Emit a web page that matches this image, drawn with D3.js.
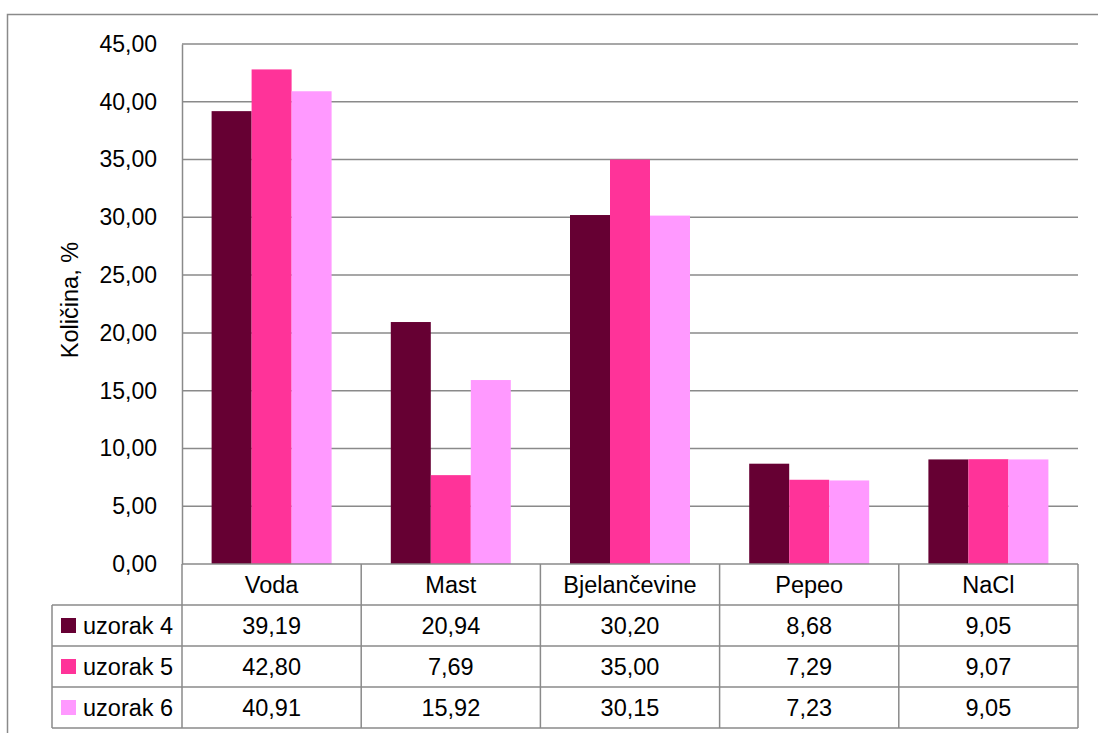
<!DOCTYPE html>
<html>
<head>
<meta charset="utf-8">
<script src="https://cdn.jsdelivr.net/npm/d3@7"></script>
<style>
  body { margin: 0; background: #fff; }
  text { font-family: "Liberation Sans", Arial, sans-serif; fill: #000; }
</style>
</head>
<body>
<div id="canvas"></div>
<script>
var categories = ["Voda", "Mast", "Bjelančevine", "Pepeo", "NaCl"];
var seriesNames = ["uzorak 4", "uzorak 5", "uzorak 6"];
var uzorak4 = [39.19, 20.94, 30.20, 8.68, 9.05];
var uzorak5 = [42.80, 7.69, 35.00, 7.29, 9.07];
var uzorak6 = [40.91, 15.92, 30.15, 7.23, 9.05];
var yTicks = [0, 5, 10, 15, 20, 25, 30, 35, 40, 45];

var seriesValues = [uzorak4, uzorak5, uzorak6];
var colors = ["#660033", "#ff3399", "#ff99ff"];

var width = 1098, height = 733;
var plotLeft = 182, plotRight = 1078, plotTop = 44, plotBottom = 564;
var rowH = 41;
var legendLeft = 52;
var gridColor = "#8a8a8a";

var fmt = function(v) { return d3.format(".2f")(v).replace(".", ","); };

var svg = d3.select("#canvas")
  .append("svg")
  .attr("width", width)
  .attr("height", height);

// outer chart border
svg.append("rect")
  .attr("x", 7.5).attr("y", 14.5)
  .attr("width", width + 20).attr("height", height + 20)
  .attr("fill", "none")
  .attr("stroke", gridColor)
  .attr("stroke-width", 1.5);

var x0 = d3.scaleBand()
  .domain(categories)
  .range([plotLeft, plotRight])
  .paddingInner(0)
  .paddingOuter(0);

// cluster = 3 bars, gap width ~150%
var x1 = d3.scaleBand()
  .domain(seriesNames)
  .range([0, x0.bandwidth()])
  .paddingOuter(0.74)
  .paddingInner(0);

var y = d3.scaleLinear()
  .domain([0, 45])
  .range([plotBottom, plotTop]);

// gridlines
svg.append("g")
  .selectAll("line")
  .data(yTicks.slice(1))
  .enter()
  .append("line")
  .attr("x1", plotLeft).attr("x2", plotRight)
  .attr("y1", function(d) { return y(d); })
  .attr("y2", function(d) { return y(d); })
  .attr("stroke", gridColor)
  .attr("stroke-width", 1.5);

// y axis
var yAxis = svg.append("g")
  .attr("transform", "translate(" + plotLeft + ",0)")
  .call(d3.axisLeft(y).tickValues(yTicks).tickFormat(fmt).tickSize(0).tickPadding(25));
yAxis.select(".domain").attr("stroke", gridColor).attr("stroke-width", 1.5);
yAxis.selectAll("text")
  .style("font-size", "23px")
  .style("font-family", "'Liberation Sans', Arial, sans-serif");

// y axis title
svg.append("text")
  .attr("transform", "translate(78,300) rotate(-90)")
  .attr("text-anchor", "middle")
  .style("font-size", "23.5px")
  .text("Količina, %");

// bars
var groups = svg.selectAll("g.cat")
  .data(categories)
  .enter()
  .append("g")
  .attr("class", "cat")
  .attr("transform", function(d) { return "translate(" + x0(d) + ",0)"; });

groups.selectAll("rect")
  .data(function(d, i) {
    return seriesNames.map(function(s, j) { return { s: s, j: j, v: seriesValues[j][i] }; });
  })
  .enter()
  .append("rect")
  .attr("x", function(d) { return x1(d.s); })
  .attr("width", x1.bandwidth())
  .attr("y", function(d) { return y(d.v); })
  .attr("height", function(d) { return plotBottom - y(d.v); })
  .attr("fill", function(d) { return colors[d.j]; });

// data table
var table = svg.append("g");
var tableBottom = plotBottom + rowH * 4;

// header row lines
table.append("line")
  .attr("x1", plotLeft).attr("x2", plotRight)
  .attr("y1", plotBottom).attr("y2", plotBottom)
  .attr("stroke", gridColor).attr("stroke-width", 1.5);

for (var r = 1; r <= 4; r++) {
  table.append("line")
    .attr("x1", legendLeft).attr("x2", plotRight)
    .attr("y1", plotBottom + rowH * r).attr("y2", plotBottom + rowH * r)
    .attr("stroke", gridColor).attr("stroke-width", 1.5);
}

// vertical lines
var vx = categories.map(function(c) { return x0(c); }).concat([plotRight]);
vx.forEach(function(xv) {
  table.append("line")
    .attr("x1", xv).attr("x2", xv)
    .attr("y1", plotBottom).attr("y2", tableBottom)
    .attr("stroke", gridColor).attr("stroke-width", 1.5);
});
table.append("line")
  .attr("x1", legendLeft).attr("x2", legendLeft)
  .attr("y1", plotBottom + rowH).attr("y2", tableBottom)
  .attr("stroke", gridColor).attr("stroke-width", 1.5);

// header labels
table.selectAll("text.hdr")
  .data(categories)
  .enter()
  .append("text")
  .attr("class", "hdr")
  .attr("x", function(d) { return x0(d) + x0.bandwidth() / 2; })
  .attr("y", plotBottom + rowH / 2 + 8)
  .attr("text-anchor", "middle")
  .style("font-size", "23.5px")
  .text(function(d) { return d; });

// legend + values
seriesNames.forEach(function(s, j) {
  var rowY = plotBottom + rowH * (j + 1);
  table.append("rect")
    .attr("x", 61).attr("y", rowY + 13)
    .attr("width", 15).attr("height", 15)
    .attr("fill", colors[j]);
  table.append("text")
    .attr("x", 83).attr("y", rowY + rowH / 2 + 8)
    .style("font-size", "23.5px")
    .text(s);
  table.selectAll("text.v" + j)
    .data(seriesValues[j])
    .enter()
    .append("text")
    .attr("class", "v" + j)
    .attr("x", function(d, i) { return x0(categories[i]) + x0.bandwidth() / 2; })
    .attr("y", rowY + rowH / 2 + 8)
    .attr("text-anchor", "middle")
    .style("font-size", "23.5px")
    .text(function(d) { return fmt(d); });
});
</script>
</body>
</html>
